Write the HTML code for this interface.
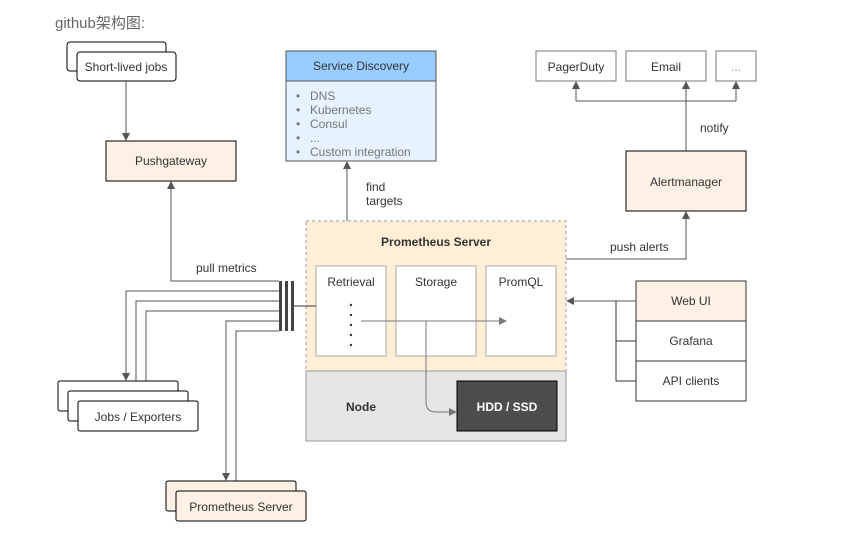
<!DOCTYPE html>
<html><head><meta charset="utf-8"><style>
body{margin:0;background:#fff}
svg text{font-family:"Liberation Sans","Noto Sans CJK SC",sans-serif;font-size:12px;fill:#333}
</style></head><body>
<svg width="845" height="536" viewBox="0 0 845 536" xmlns="http://www.w3.org/2000/svg">
<defs><marker id="a" markerWidth="8" markerHeight="8" refX="7" refY="4" orient="auto" markerUnits="userSpaceOnUse"><path d="M0,0 L8,4 L0,8z" fill="#555"/></marker>
<marker id="g" markerWidth="8" markerHeight="8" refX="7" refY="4" orient="auto" markerUnits="userSpaceOnUse"><path d="M0,0 L8,4 L0,8z" fill="#777"/></marker></defs>
<text x="55" y="28" style="font-size:15px;fill:#666">github架构图:</text>
<!-- short-lived -->
<rect x="67" y="42" width="99" height="29" rx="3" fill="#fff" stroke="#000"/>
<rect x="77" y="52" width="99" height="29" rx="3" fill="#fff" stroke="#000"/>
<text x="126" y="71" text-anchor="middle">Short-lived jobs</text>
<path d="M126,81 V140" stroke="#555" fill="none" marker-end="url(#a)"/>
<rect x="106" y="141" width="130" height="40" fill="#fdf0e4" stroke="#000"/>
<text x="171" y="165" text-anchor="middle">Pushgateway</text>
<!-- service discovery -->
<rect x="286" y="81" width="150" height="80" fill="#e6f2ff" stroke="#555"/>
<rect x="286" y="51" width="150" height="30" fill="#99ccff" stroke="#555"/>
<text x="361" y="70" text-anchor="middle">Service Discovery</text>
<g style="fill:#777"><text x="296" y="100" style="fill:#777">•</text><text x="310" y="100" style="fill:#777">DNS</text>
<text x="296" y="114" style="fill:#777">•</text><text x="310" y="114" style="fill:#777">Kubernetes</text>
<text x="296" y="128" style="fill:#777">•</text><text x="310" y="128" style="fill:#777">Consul</text>
<text x="296" y="142" style="fill:#777">•</text><text x="310" y="142" style="fill:#777">...</text>
<text x="296" y="156" style="fill:#777">•</text><text x="310" y="156" style="fill:#777">Custom integration</text></g>
<path d="M347,266 V162" stroke="#555" fill="none" marker-end="url(#a)"/>
<text x="366" y="191">find</text><text x="366" y="205">targets</text>
<!-- notifications -->
<rect x="536" y="51" width="80" height="30" fill="#fff" stroke="#777"/><text x="576" y="71" text-anchor="middle">PagerDuty</text>
<rect x="626" y="51" width="80" height="30" fill="#fff" stroke="#777"/><text x="666" y="71" text-anchor="middle">Email</text>
<rect x="716" y="51" width="40" height="30" fill="#fff" stroke="#777"/><text x="736" y="71" text-anchor="middle" style="fill:#999">...</text>
<path d="M686,151 V82" stroke="#555" fill="none" marker-end="url(#a)"/>
<path d="M576,101 H736" stroke="#555" fill="none"/>
<path d="M576,101 V82" stroke="#555" fill="none" marker-end="url(#a)"/>
<path d="M736,101 V82" stroke="#555" fill="none" marker-end="url(#a)"/>
<text x="700" y="132">notify</text>
<rect x="626" y="151" width="120" height="60" fill="#fdf0e4" stroke="#000"/>
<text x="686" y="186" text-anchor="middle">Alertmanager</text>
<path d="M566,259 H686 V212" stroke="#555" fill="none" marker-end="url(#a)"/>
<text x="610" y="251">push alerts</text>
<!-- prometheus server -->
<rect x="306" y="221" width="260" height="150" fill="#ffefd6" stroke="#999" stroke-dasharray="3,3"/>
<text x="436" y="246" text-anchor="middle" style="font-weight:bold">Prometheus Server</text>
<rect x="316" y="266" width="70" height="90" fill="#fff" stroke="#aaa"/><text x="351" y="286" text-anchor="middle">Retrieval</text>
<rect x="396" y="266" width="80" height="90" fill="#fff" stroke="#aaa"/><text x="436" y="286" text-anchor="middle">Storage</text>
<rect x="486" y="266" width="70" height="90" fill="#fff" stroke="#aaa"/><text x="521" y="286" text-anchor="middle">PromQL</text>
<g fill="#333"><circle cx="351" cy="305" r="1.2"/><circle cx="351" cy="315" r="1.2"/><circle cx="351" cy="325" r="1.2"/><circle cx="351" cy="335" r="1.2"/><circle cx="351" cy="345" r="1.2"/></g>
<rect x="306" y="371" width="260" height="70" fill="#e6e6e6" stroke="#999"/>
<text x="361" y="411" text-anchor="middle" style="font-weight:bold">Node</text>
<rect x="457" y="381" width="100" height="50" fill="#4d4d4d" stroke="#000"/>
<text x="507" y="411" text-anchor="middle" style="font-weight:bold;fill:#fff">HDD / SSD</text>
<path d="M361,321 H506" stroke="#777" fill="none" marker-end="url(#g)"/>
<path d="M426,321 V402 Q426,412 436,412 H456" stroke="#777" fill="none" marker-end="url(#g)"/>
<!-- web ui -->
<rect x="636" y="281" width="110" height="40" fill="#fdf0e4" stroke="#333"/><text x="691" y="305" text-anchor="middle">Web UI</text>
<rect x="636" y="321" width="110" height="40" fill="#fff" stroke="#333"/><text x="691" y="345" text-anchor="middle">Grafana</text>
<rect x="636" y="361" width="110" height="40" fill="#fff" stroke="#333"/><text x="691" y="385" text-anchor="middle">API clients</text>
<path d="M636,301 H567" stroke="#555" fill="none" marker-end="url(#a)"/>
<path d="M616,301 V381 H636 M616,341 H636" stroke="#333" fill="none"/>
<!-- bar -->
<rect x="279" y="281" width="3" height="50" fill="#444"/><rect x="285" y="281" width="3" height="50" fill="#444"/><rect x="291" y="281" width="3" height="50" fill="#444"/>
<path d="M294,306 H316" stroke="#333" fill="none"/>
<path d="M279,281 H171 V182" stroke="#555" fill="none" marker-end="url(#a)"/>
<text x="196" y="272">pull metrics</text>
<path d="M279,291 H126 V380" stroke="#555" fill="none" marker-end="url(#a)"/>
<path d="M279,301 H136 V390" stroke="#555" fill="none" marker-end="url(#a)"/>
<path d="M279,311 H146 V400" stroke="#555" fill="none" marker-end="url(#a)"/>
<path d="M279,321 H226 V480" stroke="#555" fill="none" marker-end="url(#a)"/>
<path d="M279,331 H236 V490" stroke="#555" fill="none" marker-end="url(#a)"/>
<!-- jobs -->
<rect x="58" y="381" width="120" height="30" rx="2" fill="#fff" stroke="#000"/>
<rect x="68" y="391" width="120" height="30" rx="2" fill="#fff" stroke="#000"/>
<rect x="78" y="401" width="120" height="30" rx="2" fill="#fff" stroke="#000"/>
<text x="138" y="421" text-anchor="middle">Jobs / Exporters</text>
<rect x="166" y="481" width="130" height="30" rx="2" fill="#fdf0e4" stroke="#000"/>
<rect x="176" y="491" width="130" height="30" rx="2" fill="#fdf0e4" stroke="#000"/>
<text x="241" y="511" text-anchor="middle">Prometheus Server</text>
</svg>
</body></html>
